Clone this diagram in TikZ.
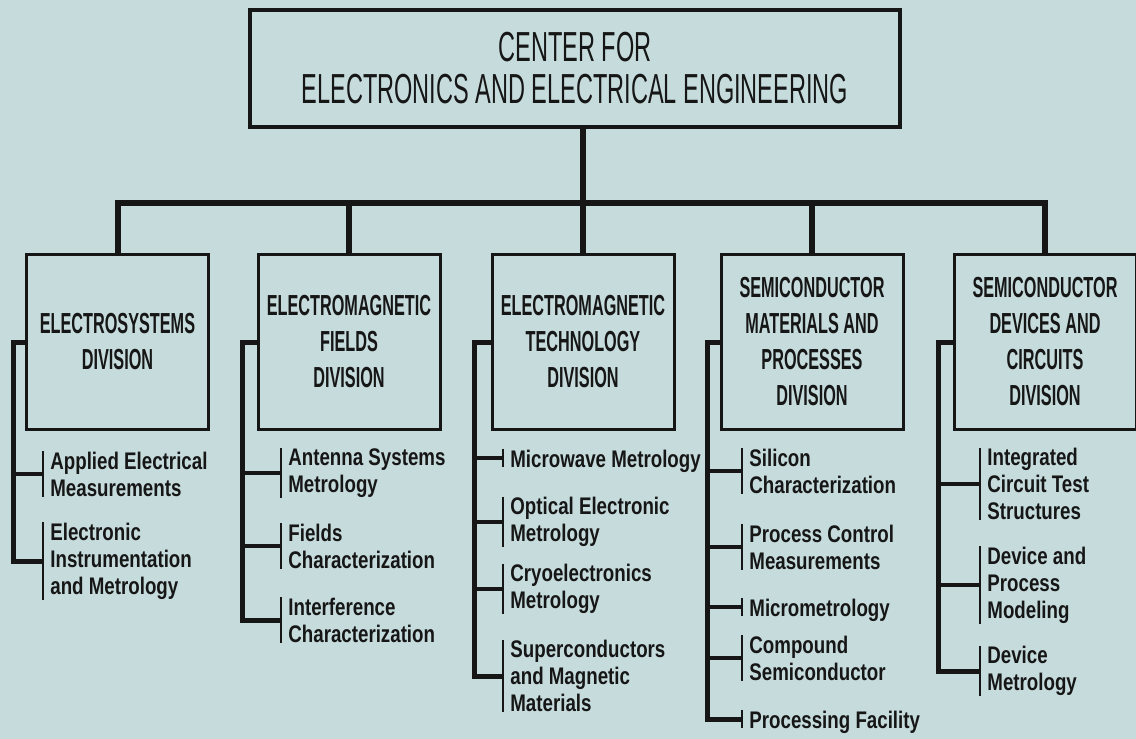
\documentclass[tikz,border=0pt]{standalone}
\usepackage{fontspec}
\setmainfont{Liberation Sans}
\newfontfamily\narrowfont{Liberation Sans}[FakeStretch=0.56]
\newfontfamily\itemfont{Liberation Sans}[FakeStretch=0.78]
\usepackage{tikz}
\usetikzlibrary{positioning}
\definecolor{paper}{HTML}{C6DBDC}
\definecolor{ink}{HTML}{161616}

\begin{document}
\begin{tikzpicture}[x=0.5pt,y=-0.5pt,text=ink,
 ctr/.style={draw=ink,line width=1.6pt,minimum width=325pt,minimum height=58.5pt,
  align=center,font=\narrowfont\fontsize{21}{21}\selectfont},
 div/.style={draw=ink,line width=1.5pt,minimum width=91pt,minimum height=87.5pt,
  anchor=north,align=center,font=\narrowfont\bfseries\fontsize{14.5}{18}\selectfont},
 item/.style={anchor=west,align=left,inner xsep=3.5pt,inner ysep=0pt,
  font=\itemfont\bfseries\fontsize{12}{13.5}\selectfont},
 oneline/.style={item,text height=9pt,text depth=0pt},
 trunk/.style={draw=ink,line width=3pt},
 spine/.style={draw=ink,line width=2.5pt},
 twig/.style={draw=ink,line width=2pt},
 tick/.style={draw=ink,line width=1.2pt}]
\fill[paper] (0,0) rectangle (1136,739);
\useasboundingbox (0,0) rectangle (1136,739);

% center and divisions
\node[ctr] (cen) at (575,68.5) {CENTER FOR\\ELECTRONICS AND ELECTRICAL ENGINEERING};
\node[div] (es) at (117.5,253) {ELECTROSYSTEMS\\DIVISION};
\node[div] (emf) at (349,253) {ELECTROMAGNETIC\\FIELDS\\DIVISION};
\node[div] (emt) at (583,253) {ELECTROMAGNETIC\\TECHNOLOGY\\DIVISION};
\node[div] (smp) at (812,253) {SEMICONDUCTOR\\MATERIALS AND\\PROCESSES\\DIVISION};
\node[div] (sdc) at (1045,253) {SEMICONDUCTOR\\DEVICES AND\\CIRCUITS\\DIVISION};

\coordinate (bar) at (0,203);
\draw[trunk] (cen.south -| emt.north)--(emt.north);
\draw[trunk] (es.north) |- (bar -| sdc.north)--(sdc.north);
\foreach \d in {emf,smp} \draw[trunk] (\d.north)--(\d.north |- bar);

% groups
\node[item] (esa) at (43,474) {Applied Electrical\\Measurements};
\node[item] (esb) at (43,561) {Electronic\\Instrumentation\\and Metrology};

\node[item] (emfa) at (281,473) {Antenna Systems\\Metrology};
\node[item] (emfb) at (281,546) {Fields\\Characterization};
\node[item] (emfc) at (281,620) {Interference\\Characterization};

\node[oneline] (emta) at (503,458) {Microwave Metrology};
\node[item] (emtb) at (503,522) {Optical Electronic\\Metrology};
\node[item] (emtc) at (503,589) {Cryoelectronics\\Metrology};
\node[item] (emtd) at (503,676) {Superconductors\\and Magnetic\\Materials};

\node[item] (smpa) at (742,471) {Silicon\\Characterization};
\node[item] (smpb) at (742,547) {Process Control\\Measurements};
\node[oneline] (smpc) at (742,607) {Micrometrology};
\node[item] (smpd) at (742,658) {Compound\\Semiconductor};
\node[oneline] (smpe) at (742,719) {Processing Facility};

\node[item] (sdca) at (980,484) {Integrated\\Circuit Test\\Structures};
\node[item] (sdcb) at (980,585) {Device and\\Process\\Modeling};
\node[item] (sdcc) at (980,671) {Device\\Metrology};

\foreach \n in {esa,esb,emfa,emfb,emfc,emta,emtb,emtc,emtd,
  smpa,smpb,smpc,smpd,smpe,sdca,sdcb,sdcc}
  \draw[tick] (\n.north west)--(\n.south west);

% spines
\coordinate (esS) at (13,0);
\coordinate (emfS) at (242,0);
\coordinate (emtS) at (474,0);
\coordinate (smpS) at (707,0);
\coordinate (sdcS) at (938,0);
\draw[spine] (es.west)--(es.west -| esS) |- (esb.west);
\draw[spine] (emf.west)--(emf.west -| emfS) |- (emfc.west);
\draw[spine] (emt.west)--(emt.west -| emtS) |- (emtd.west);
\draw[spine] (smp.west)--(smp.west -| smpS) |- (smpe.west);
\draw[spine] (sdc.west)--(sdc.west -| sdcS) |- (sdcc.west);
\draw[twig] (esa.west -| esS)--(esa.west);
\foreach \n in {emfa,emfb} \draw[twig] (\n.west -| emfS)--(\n.west);
\foreach \n in {emta,emtb,emtc} \draw[twig] (\n.west -| emtS)--(\n.west);
\foreach \n in {smpa,smpb,smpc,smpd} \draw[twig] (\n.west -| smpS)--(\n.west);
\foreach \n in {sdca,sdcb} \draw[twig] (\n.west -| sdcS)--(\n.west);
\end{tikzpicture}
\end{document}
